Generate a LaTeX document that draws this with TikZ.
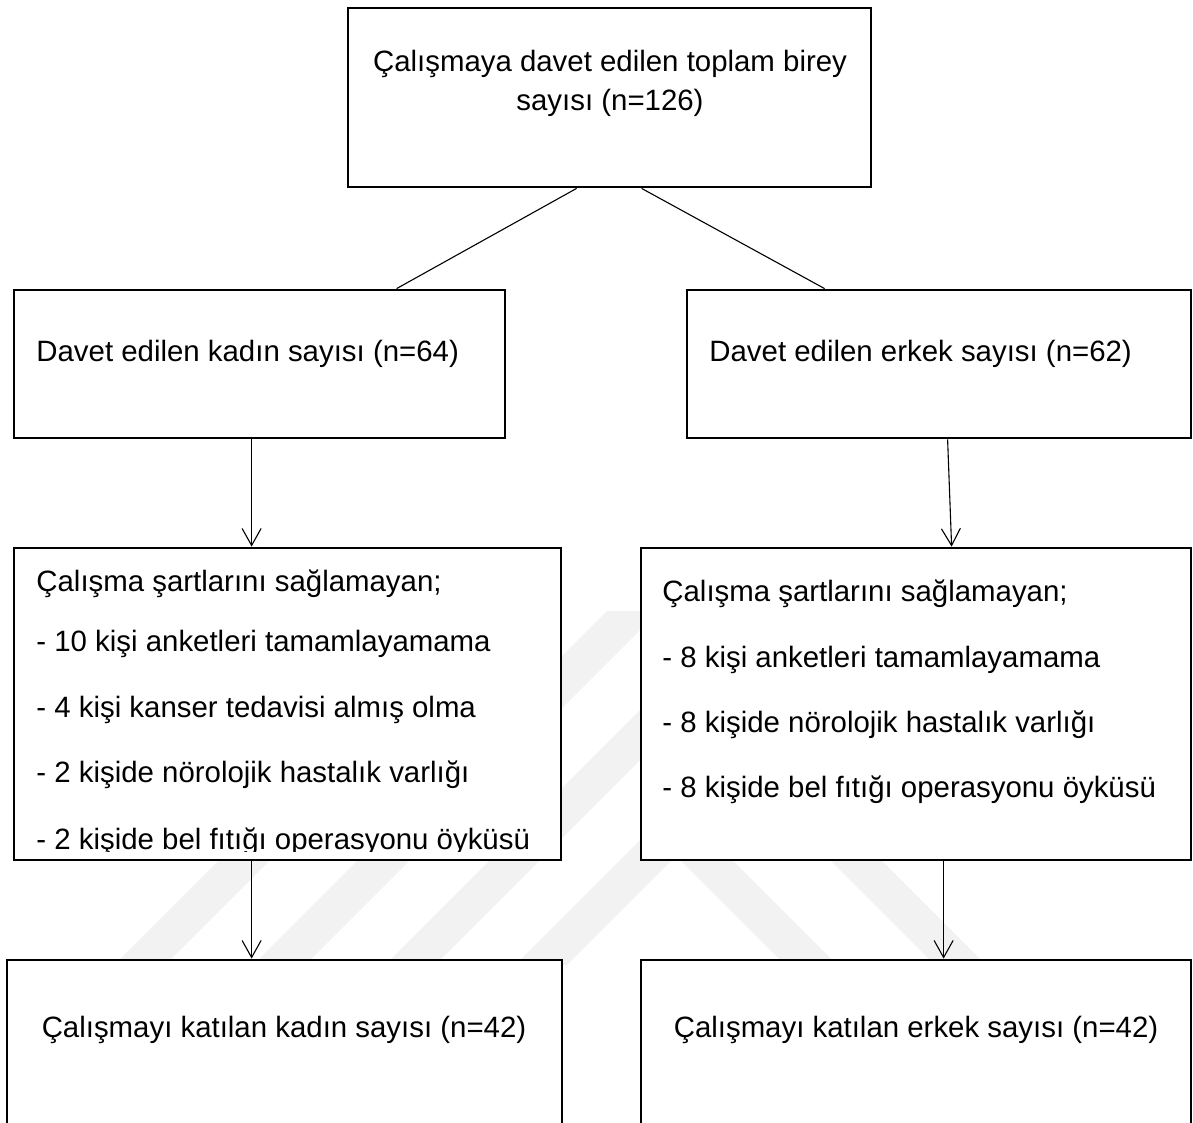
\documentclass[tikz,border=0pt]{standalone}
\usepackage{fontspec}
\setmainfont{Liberation Sans}
\usetikzlibrary{arrows.meta,calc}
\begin{document}
\begin{tikzpicture}[x=0.5pt,y=-0.5pt,
  box/.style 2 args={draw=black, line width=1.4pt, fill=white, rectangle, inner sep=0pt,
    minimum width=#1*0.5pt, minimum height=#2*0.5pt},
  conn/.style={line width=0.55pt, draw=black},
  arr/.style={conn, -{Straight Barb[length=8.5pt,width=9.5pt,line width=0.55pt]}},
  txt/.style={inner sep=0pt, font=\fontsize{14.7pt}{19.5pt}\selectfont},
  wm/.style={fill=black!5, draw=none}]
\useasboundingbox (0,0) rectangle (1193,1123);
\fill[white] (0,0) rectangle (1193,1123);
% faint watermark
\fill[wm] (468,611) -- (519,611) -- (165,965) -- (114,965) -- cycle;
\fill[wm] (607,611) -- (659,611) -- (305,965) -- (253,965) -- cycle;
\fill[wm] (739,611) -- (789,611) -- (435,965) -- (385,965) -- cycle;
\fill[wm] (515,965) -- (676,804) -- (837,965) -- (785,965) -- (676,856) -- (567,965) -- cycle;
\fill[wm] (770,800) -- (821,800) -- (986,965) -- (935,965) -- cycle;
% boxes
\node[box={523}{179}] (top) at (609.5,97.5) {};
\node[box={491}{148}] (L2) at (259.5,364) {};
\node[box={504}{148}] (R2) at (939,364) {};
\node[box={547}{312}] (L3) at (287.5,704) {};
\node[box={550}{312}] (R3) at (916,704) {};
\node[box={555}{190}] (L4) at (284.5,1055) {};
\node[box={550}{190}] (R4) at (916,1055) {};
% connectors
\draw[conn] ($(top.south west)+(230,0)$) -- ($(L2.north west)+(384,0)$);
\draw[conn] ($(top.south west)+(295,0)$) -- ($(R2.north west)+(139,0)$);
\draw[arr] ($(L2.south west)+(239,0)$) -- ($(L3.north west)+(239,0)$);
\draw[arr] ($(R2.south west)+(262,0)$) -- ($(R3.north west)+(312,0)$);
\draw[arr] ($(L3.south west)+(239,0)$) -- ($(L4.north west)+(246,0)$);
\draw[arr] ($(R3.south west)+(304,0)$) -- ($(R4.north west)+(304,0)$);
% texts
\node[txt, align=center, anchor=base] (t0) at (610,111) {Çalışmaya davet edilen toplam birey\\sayısı (n=126)};
\node[txt, anchor=base west] (tl2) at (36,361) {Davet edilen kadın sayısı (n=64)};
\node[txt, anchor=base west] (tr2) at (709,361) {Davet edilen erkek sayısı (n=62)};
\node[txt, anchor=base west] (tl3a) at (36,591) {Çalışma şartlarını sağlamayan;};
\node[txt, anchor=base west] (tl3b) at (36,651) {- 10 kişi anketleri tamamlayamama};
\node[txt, anchor=base west] (tl3c) at (36,717) {- 4 kişi kanser tedavisi almış olma};
\node[txt, anchor=base west] (tl3d) at (36,782) {- 2 kişide nörolojik hastalık varlığı};
\begin{scope}
\clip (16,548) rectangle (559,851);
\node[txt, anchor=base west] (tl3e) at (36,849) {- 2 kişide bel fıtığı operasyonu öyküsü};
\end{scope}
\node[txt, anchor=base west] (tr3a) at (662,601) {Çalışma şartlarını sağlamayan;};
\node[txt, anchor=base west] (tr3b) at (662,667) {- 8 kişi anketleri tamamlayamama};
\node[txt, anchor=base west] (tr3c) at (662,732) {- 8 kişide nörolojik hastalık varlığı};
\node[txt, anchor=base west] (tr3d) at (662,797) {- 8 kişide bel fıtığı operasyonu öyküsü};
\node[txt, anchor=base] (tl4) at (284,1037) {Çalışmayı katılan kadın sayısı (n=42)};
\node[txt, anchor=base] (tr4) at (916,1037) {Çalışmayı katılan erkek sayısı (n=42)};
\end{tikzpicture}
\end{document}
